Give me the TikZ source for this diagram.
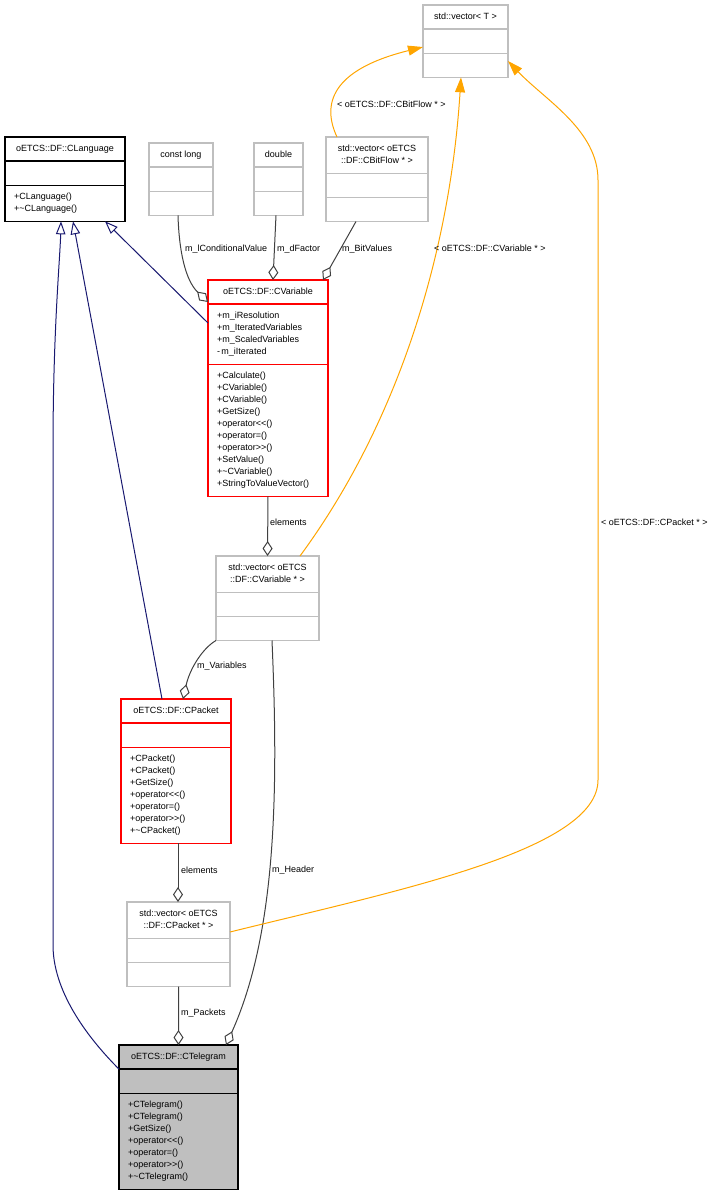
\documentclass[tikz,border=0pt]{standalone}
\usepackage{fontspec}
\setmainfont{Liberation Sans}[Ligatures=TeXOff]
\usetikzlibrary{calc,shapes.multipart,arrows.meta}
\definecolor{grey75}{HTML}{BFBFBF}
\definecolor{grey25}{HTML}{404040}
\definecolor{navy}{HTML}{191970}
\definecolor{orng}{HTML}{FFA500}
\newcommand{\rs}{\rule[-3.5bp]{0pt}{11.8bp}}
\tikzset{
  cls/.style={rectangle split, rectangle split parts=3, rectangle split part align={center,left,left},
    align=left, draw=grey75, line width=1.3bp, inner xsep=9bp, inner ysep=5.5bp, outer sep=0pt, anchor=north west},
  inh/.style={navy, line width=1bp, -{Triangle[open,length=13bp,width=9.5bp]}},
  agg/.style={grey25, line width=1bp, -{Diamond[open,length=15bp,width=10bp]}},
  tmpl/.style={orng, line width=1bp, -{Triangle[length=15bp,width=10bp]}},
  lbl/.style={inner sep=0pt, anchor=west}
}
\begin{document}
\begin{tikzpicture}[x=1bp,y=-1bp,font=\fontsize{9bp}{12bp}\selectfont]
\useasboundingbox (0,0) rectangle (713,1192);
\node[cls, minimum width=85bp] (vect) at (423,5) {\rs std::vector< T >\nodepart{two}\rs\nodepart{three}\rs};
\node[cls, minimum width=120bp, draw=black] (clang) at (5,137) {\rs oETCS::DF::CLanguage\nodepart{two}\rs\nodepart{three}\rs +CLanguage()\\\rs +\textasciitilde CLanguage()};
\node[cls, minimum width=64bp] (clong) at (149,143) {\rs const long\nodepart{two}\rs\nodepart{three}\rs};
\node[cls, minimum width=49bp] (cdouble) at (254,143) {\rs double\nodepart{two}\rs\nodepart{three}\rs};
\node[cls, minimum width=102bp] (vbit) at (326,137) {\begin{tabular}{@{}c@{}}std::vector< oETCS\\::DF::CBitFlow * >\end{tabular}\nodepart{two}\rs\nodepart{three}\rs};
\node[cls, minimum width=120bp, draw=red] (cvar) at (208,280) {\rs oETCS::DF::CVariable\nodepart{two}\rs +m\_iResolution\\\rs +m\_IteratedVariables\\\rs +m\_ScaledVariables\\\rs -\,m\_iIterated
  \nodepart{three}\rs +Calculate()\\\rs +CVariable()\\\rs +CVariable()\\\rs +GetSize()\\\rs +operator<<()\\\rs +operator=()\\\rs +operator>>()\\\rs +SetValue()\\\rs +\textasciitilde CVariable()\\\rs +StringToValueVector()};
\node[cls, minimum width=103bp] (vvar) at (216,556) {\begin{tabular}{@{}c@{}}std::vector< oETCS\\::DF::CVariable * >\end{tabular}\nodepart{two}\rs\nodepart{three}\rs};
\node[cls, minimum width=110bp, draw=red] (cpack) at (121,699) {\rs oETCS::DF::CPacket\nodepart{two}\rs
  \nodepart{three}\rs +CPacket()\\\rs +CPacket()\\\rs +GetSize()\\\rs +operator<<()\\\rs +operator=()\\\rs +operator>>()\\\rs +\textasciitilde CPacket()};
\node[cls, minimum width=103bp] (vpack) at (127,902) {\begin{tabular}{@{}c@{}}std::vector< oETCS\\::DF::CPacket * >\end{tabular}\nodepart{two}\rs\nodepart{three}\rs};
\node[cls, minimum width=119bp, draw=black, fill=grey75] (ctele) at (119,1045) {\rs oETCS::DF::CTelegram\nodepart{two}\rs
  \nodepart{three}\rs +CTelegram()\\\rs +CTelegram()\\\rs +GetSize()\\\rs +operator<<()\\\rs +operator=()\\\rs +operator>>()\\\rs +\textasciitilde CTelegram()};
\draw[inh] (ctele.text split west) .. controls (85,1035) and (53,990) .. (53,945) -- (53,450) .. controls (53,330) and (60,260) .. ($(clang.south west)+(56,0)$);
\draw[inh] ($(cpack.north west)+(41,0)$) -- ($(clang.south west)+(68,0)$);
\draw[inh] ($(cvar.north west)+(0,43)$) -- ($(clang.south west)+(100,0)$);
\draw[agg] ($(clong.south west)+(29,0)$) .. controls (179,250) and (185,280) .. ($(cvar.north west)+(0,22)$);
\draw[agg] ($(cdouble.south west)+(22,0)$) -- ($(cvar.north west)+(65,0)$);
\draw[agg] ($(vbit.south west)+(30,0)$) -- ($(cvar.north east)+(-5,0)$);
\draw[agg] (cvar.south) -- (vvar.north);
\draw[agg] (vvar.south west) .. controls (203,648) and (190,668) .. ($(cpack.north west)+(62,0)$);
\draw[agg] ($(cpack.south west)+(57,0)$) -- ($(vpack.north west)+(51,0)$);
\draw[agg] (vpack.south) -- (ctele.north);
\draw[agg] ($(vvar.south west)+(56,0)$) .. controls (278,780) and (278,930) .. ($(ctele.north west)+(107,0)$);
\draw[tmpl] ($(vbit.north west)+(11,0)$) .. controls (322,105) and (330,70) .. ($(vect.north west)+(0,42)$);
\draw[tmpl] ($(vvar.north east)+(-19,0)$) .. controls (400,420) and (450,250) .. ($(vect.south west)+(38,0)$);
\draw[tmpl] ($(vpack.north east)+(0,30)$) .. controls (400,890) and (598,850) .. (598,780) -- (598,180) .. controls (598,130) and (545,100) .. ($(vect.north east)+(0,56)$);
\node[lbl] (lcond) at (185,249) {m\_lConditionalValue};
\node[lbl] (lfac) at (277,249) {m\_dFactor};
\node[lbl] (lbit) at (342,249) {m\_BitValues};
\node[lbl] (lel1) at (270,522) {elements};
\node[lbl] (lvars) at (197,666) {m\_Variables};
\node[lbl] (lel2) at (181,870) {elements};
\node[lbl] (lpk) at (181,1013) {m\_Packets};
\node[lbl] (lhdr) at (272,870) {m\_Header};
\node[lbl] (lbf) at (337,104) {< oETCS::DF::CBitFlow * >};
\node[lbl] (lcv) at (434,248) {< oETCS::DF::CVariable * >};
\node[lbl] (lcp) at (601,522) {< oETCS::DF::CPacket * >};
\end{tikzpicture}
\end{document}
